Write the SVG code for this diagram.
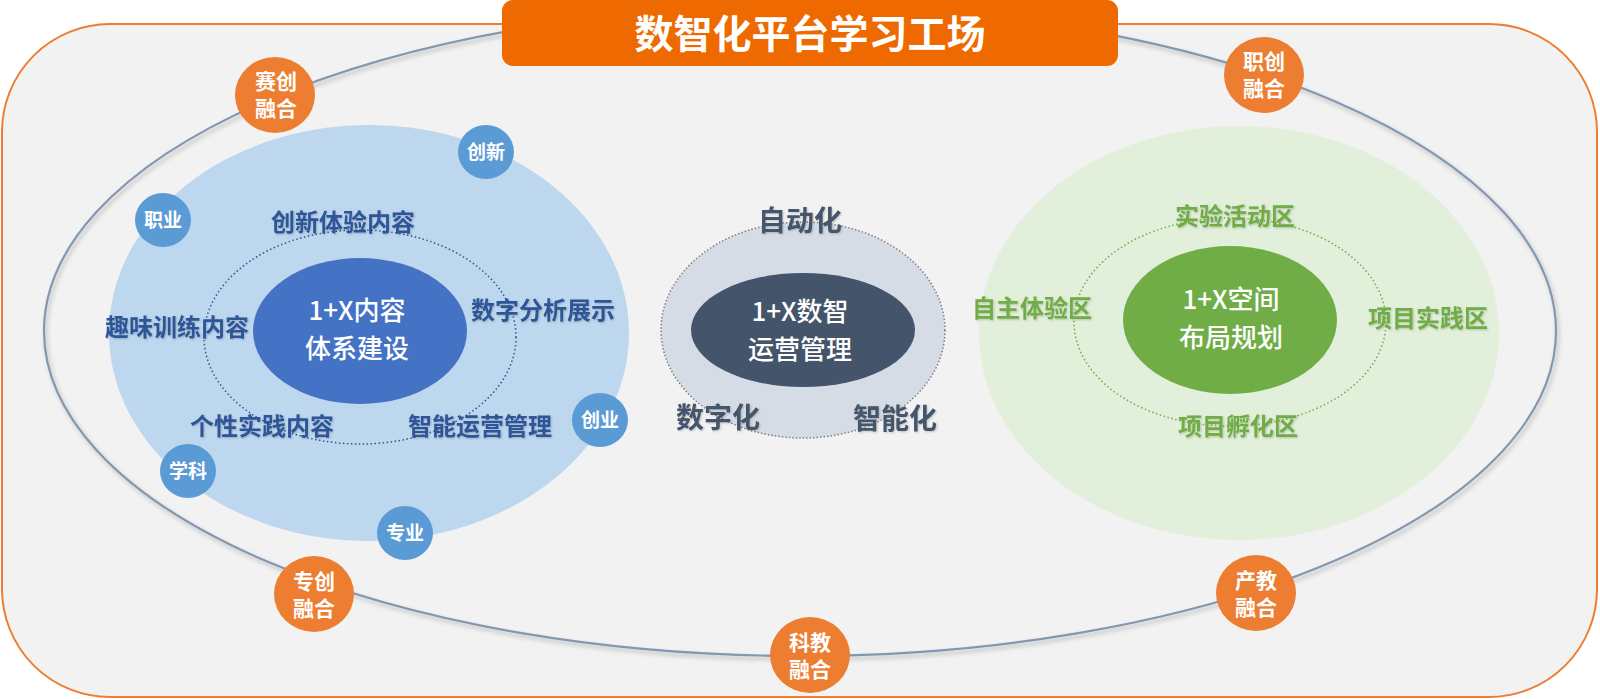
<svg xmlns="http://www.w3.org/2000/svg" width="1600" height="699" viewBox="0 0 1600 699">
<defs>
<filter id="sh" x="-10%" y="-10%" width="120%" height="120%">
<feDropShadow dx="2" dy="3" stdDeviation="2" flood-color="#000" flood-opacity="0.25"/>
</filter>
<filter id="tsh" x="-10%" y="-20%" width="120%" height="140%">
<feDropShadow dx="1" dy="1" stdDeviation="1" flood-color="#000" flood-opacity="0.2"/>
</filter>
<style>
text{font-family:"Noto Sans CJK SC","Noto Sans",sans-serif;font-weight:bold;text-anchor:middle}
.w{fill:#fff}
.lb{fill:#2F5597;font-size:24px}
.gy{fill:#44546A;font-size:28px}
.gr{fill:#70AD47;font-size:24px}
.ctr{fill:#fff;font-size:26px;font-weight:500}
.sm{fill:#fff;font-size:19px}
.og{fill:#fff;font-size:21px}
.bc{fill:#5B9BD5}
.oc{fill:#ED7D31}
</style>
</defs>
<rect x="2" y="24" width="1595" height="673" rx="108" ry="108" fill="#F2F2F2" stroke="#ED7D31" stroke-width="2"/>
<g id="connectors">
<ellipse cx="800" cy="331" rx="756" ry="325" fill="none" stroke="#8497B0" stroke-width="2.2" filter="url(#sh)"/>
</g>
<g id="left-cluster">
<ellipse cx="369" cy="333" rx="260" ry="208" fill="#BDD7EE"/>
<ellipse cx="360" cy="337" rx="156" ry="107" fill="none" stroke="#2F5597" stroke-width="1.5" stroke-dasharray="1.5 2.5"/>
</g>
<g id="node-content">
<ellipse cx="360" cy="331" rx="107" ry="73" fill="#4472C4"/>
<text class="ctr" x="357" y="320">1+X内容<tspan x="357" dy="38">体系建设</tspan></text>
</g>
<g id="left-labels" filter="url(#tsh)">
<text class="lb" x="343" y="231">创新体验内容</text>
<text class="lb" x="543" y="319">数字分析展示</text>
<text class="lb" x="177" y="336">趣味训练内容</text>
<text class="lb" x="262" y="435">个性实践内容</text>
<text class="lb" x="480" y="435">智能运营管理</text>
</g>
<g id="mid-cluster">
<ellipse cx="803" cy="330" rx="142" ry="108" fill="#D6DCE5" stroke="#7F7F7F" stroke-width="1.5" stroke-dasharray="1.5 2"/>
</g>
<g id="node-ops">
<ellipse cx="803" cy="330" rx="112" ry="57" fill="#44546A"/>
<text class="ctr" x="800" y="321">1+X数智<tspan x="800" dy="38">运营管理</tspan></text>
</g>
<g id="mid-labels" filter="url(#tsh)">
<text class="gy" x="800" y="231">自动化</text>
<text class="gy" x="718" y="428">数字化</text>
<text class="gy" x="895" y="429">智能化</text>
</g>
<g id="right-cluster">
<ellipse cx="1239" cy="333" rx="260" ry="207" fill="#E2EFDA"/>
<ellipse cx="1230" cy="322" rx="156" ry="104" fill="none" stroke="#70AD47" stroke-width="1.5" stroke-dasharray="1.5 2.5"/>
</g>
<g id="node-space">
<ellipse cx="1230" cy="320" rx="107" ry="74" fill="#70AD47"/>
<text class="ctr" x="1231" y="309">1+X空间<tspan x="1231" dy="38">布局规划</tspan></text>
</g>
<g id="right-labels" filter="url(#tsh)">
<text class="gr" x="1235" y="225">实验活动区</text>
<text class="gr" x="1032" y="317">自主体验区</text>
<text class="gr" x="1428" y="327">项目实践区</text>
<text class="gr" x="1238" y="435">项目孵化区</text>
</g>
<g id="node-zhiye"><ellipse class="bc" cx="163" cy="220" rx="28" ry="27"/><text class="sm" x="163" y="227">职业</text></g>
<g id="node-chuangxin"><ellipse class="bc" cx="486" cy="152" rx="28" ry="27"/><text class="sm" x="486" y="159">创新</text></g>
<g id="node-chuangye"><ellipse class="bc" cx="600" cy="420" rx="28" ry="27"/><text class="sm" x="600" y="427">创业</text></g>
<g id="node-xueke"><ellipse class="bc" cx="188" cy="471" rx="28" ry="27"/><text class="sm" x="188" y="478">学科</text></g>
<g id="node-zhuanye"><ellipse class="bc" cx="405" cy="533" rx="28" ry="27"/><text class="sm" x="405" y="540">专业</text></g>
<g id="node-saichuang"><ellipse class="oc" cx="275" cy="95" rx="40" ry="38"/><text class="og" x="276" y="89">赛创<tspan x="276" dy="27">融合</tspan></text></g>
<g id="node-zhichuang"><ellipse class="oc" cx="1264" cy="75" rx="40" ry="38"/><text class="og" x="1264" y="69">职创<tspan x="1264" dy="27">融合</tspan></text></g>
<g id="node-zhuanchuang"><ellipse class="oc" cx="314" cy="594" rx="40" ry="38"/><text class="og" x="314" y="589">专创<tspan x="314" dy="27">融合</tspan></text></g>
<g id="node-kejiao"><ellipse class="oc" cx="810" cy="655" rx="40" ry="38"/><text class="og" x="810" y="650">科教<tspan x="810" dy="27">融合</tspan></text></g>
<g id="node-chanjiao"><ellipse class="oc" cx="1256" cy="593" rx="40" ry="38"/><text class="og" x="1256" y="588">产教<tspan x="1256" dy="27">融合</tspan></text></g>
<g id="title">
<rect x="502" y="0" width="616" height="66" rx="11" ry="11" fill="#EE6A00"/>
<text class="w" x="810" y="48" style="font-size:39px">数智化平台学习工场</text>
</g>
</svg>
